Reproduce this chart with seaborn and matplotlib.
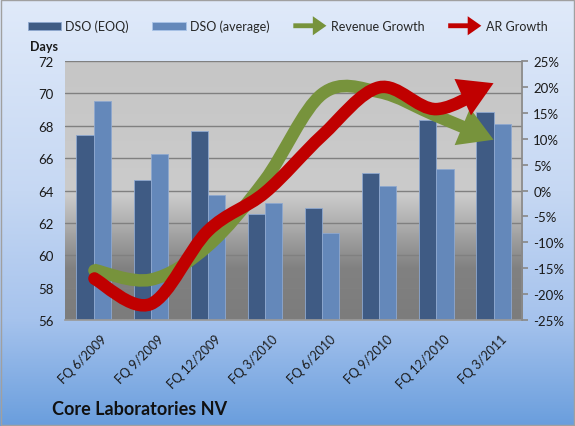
import numpy as np
import pandas as pd
import matplotlib
matplotlib.use("Agg")
import matplotlib.pyplot as plt
import matplotlib.transforms as mtransforms
import seaborn as sns
from matplotlib.patches import FancyArrowPatch, Patch, Rectangle
from matplotlib.lines import Line2D
from matplotlib.path import Path
from matplotlib.legend_handler import HandlerBase
from matplotlib.colors import LinearSegmentedColormap

# values
quarters = ["FQ 6/2009", "FQ 9/2009", "FQ 12/2009", "FQ 3/2010",
            "FQ 6/2010", "FQ 9/2010", "FQ 12/2010", "FQ 3/2011"]
dso_eoq = [67.4, 64.65, 67.7, 62.55, 62.9, 65.1, 68.35, 68.85]
dso_avg = [69.5, 66.25, 63.7, 63.2, 61.4, 64.3, 65.3, 68.1]
revenue_growth = [-15.3, -17.2, -10.7, 2.0, 18.6, 19.0, 14.4, 9.8]
ar_growth = [-16.9, -21.9, -7.8, -0.4, 10.6, 19.9, 15.7, 20.7]

c_eoq = "#3f5b84"
c_avg = "#6488ba"
c_rev = "#77933c"
c_ar = "#c00000"

sns.set_theme(style="white")
plt.rcParams["font.family"] = ["Lato", "DejaVu Sans"]

df = pd.DataFrame({
    "quarter": quarters * 2,
    "dso": dso_eoq + dso_avg,
    "series": ["DSO (EOQ)"] * len(quarters) + ["DSO (average)"] * len(quarters),
})

fig = plt.figure(figsize=(5.75, 4.27), dpi=100)

# figure background gradient
bg = fig.add_axes([0, 0, 1, 1], zorder=0)
bg_cmap = LinearSegmentedColormap.from_list(
    "bg", [(0, "#6a9edd"), (0.25, "#a6c3ed"), (0.55, "#c6d8f3"), (1, "#e0eafa")])
bg.imshow(np.linspace(0, 1, 256).reshape(-1, 1), cmap=bg_cmap, aspect="auto",
          origin="lower", extent=[0, 1, 0, 1])
bg.axis("off")
fig.patches.append(Rectangle((0.002, 0.002), 0.996, 0.996, transform=fig.transFigure,
                             fill=False, edgecolor="#a0a0a0", lw=1, zorder=10))

pos = [0.113, 0.248, 0.795, 0.607]

# plot area gradient
pbg = fig.add_axes(pos, zorder=1)
plot_cmap = LinearSegmentedColormap.from_list(
    "plot", [(0, "#7c7c7c"), (0.2, "#818181"), (0.48, "#cbcbcb"), (1, "#c6c6c6")])
pbg.imshow(np.linspace(0, 1, 256).reshape(-1, 1), cmap=plot_cmap, aspect="auto",
           origin="lower", extent=[0, 1, 0, 1])
pbg.axis("off")

ax = fig.add_axes(pos, zorder=2)
ax.patch.set_visible(False)
sns.barplot(data=df, x="quarter", y="dso", hue="series", palette=[c_eoq, c_avg],
            width=0.6, saturation=1, edgecolor="#8ea8cf", linewidth=0.6,
            legend=False, ax=ax)
ax.set_ylim(56, 72)
ax.set_yticks(range(56, 73, 2))
ax.set_xlim(-0.5, len(quarters) - 0.5)
ax.set_xlabel("")
ax.set_ylabel("")
ax.yaxis.grid(True, color="#808080", lw=1)
ax.set_axisbelow(True)
for s in ["left", "top", "right"]:
    ax.spines[s].set_visible(False)
ax.spines["bottom"].set_color("#9a9a9a")
ax.tick_params(axis="y", length=0, pad=8, labelsize=9.5, labelcolor="#1a1a1a")
ax.set_xticks(range(len(quarters)))
ax.set_xticklabels(quarters, rotation=45, ha="right", rotation_mode="anchor",
                   fontsize=9, color="#1a1a1a")
ax.tick_params(axis="x", which="major", length=0, pad=9)
shift = mtransforms.ScaledTranslation(5 / 72, 0, fig.dpi_scale_trans)
for lab in ax.get_xticklabels():
    lab.set_transform(lab.get_transform() + shift)
ax.set_xticks(np.arange(-0.5, len(quarters)), minor=True)
ax.tick_params(axis="x", which="minor", length=4, color="#8a8a8a", direction="out")

ax2 = ax.twinx()
ax2.set_zorder(3)
ax2.patch.set_visible(False)
ax2.set_ylim(-25, 25)
ax2.set_yticks(range(-25, 26, 5))
ax2.set_yticklabels([f"{v}%" for v in range(-25, 26, 5)])
for s in ["left", "top", "bottom"]:
    ax2.spines[s].set_visible(False)
ax2.spines["right"].set_color("#8a8a8a")
ax2.tick_params(axis="y", length=4, color="#8a8a8a", direction="out", pad=4,
                labelsize=9.5, labelcolor="#1a1a1a")
ax2.grid(False)


def smooth_path(ys):
    pts = np.column_stack([np.arange(len(ys)), ys]).astype(float)
    n = len(pts)
    verts = [pts[0]]
    codes = [Path.MOVETO]
    for i in range(n - 1):
        p0 = pts[max(i - 1, 0)]
        p1 = pts[i]
        p2 = pts[i + 1]
        p3 = pts[min(i + 2, n - 1)]
        verts += [p1 + (p2 - p0) / 6, p2 - (p3 - p1) / 6, p2]
        codes += [Path.CURVE4] * 3
    return Path(verts, codes)


for ys, col in [(revenue_growth, c_rev), (ar_growth, c_ar)]:
    arr = FancyArrowPatch(path=smooth_path(ys),
                          arrowstyle="-|>,head_length=11,head_width=6.5",
                          mutation_scale=1, lw=9, color=col,
                          transform=ax2.transData)
    arr.set_capstyle("butt")
    arr.set_joinstyle("miter")
    ax2.add_patch(arr)
    ax2.plot([0], [ys[0]], "o", ms=9, color=col, mew=0)


class ArrowHandler(HandlerBase):
    def create_artists(self, legend, orig_handle, xdescent, ydescent, width, height, fontsize, trans):
        y = height / 2 - ydescent
        a = FancyArrowPatch((-xdescent, y), (width - xdescent, y),
                            arrowstyle="-|>,head_length=5,head_width=3.5",
                            mutation_scale=1, lw=3.5, color=orig_handle.get_color(),
                            shrinkA=0, shrinkB=0, transform=trans)
        a.set_capstyle("butt")
        a.set_joinstyle("miter")
        return [a]


handles = [Patch(facecolor=c_eoq, edgecolor="#8ea8cf", lw=0.6, label="DSO (EOQ)"),
           Patch(facecolor=c_avg, edgecolor="#a9c4e8", lw=0.6, label="DSO (average)"),
           Line2D([], [], color=c_rev, label="Revenue Growth"),
           Line2D([], [], color=c_ar, label="AR Growth")]
fig.legend(handles=handles, loc="center", bbox_to_anchor=(0.5, 0.937), ncol=4,
           frameon=False, fontsize=9, handlelength=2.65, handleheight=0.55,
           handletextpad=0.35, columnspacing=1.9,
           handler_map={Line2D: ArrowHandler()})

fig.text(0.052, 0.89, "Days", fontsize=9, fontweight="bold", va="center", color="#1a1a1a")
fig.text(0.09, 0.04, "Core Laboratories NV", fontsize=13, fontweight="bold",
         va="center", color="#111111")

fig.savefig("out.png", dpi=100)
